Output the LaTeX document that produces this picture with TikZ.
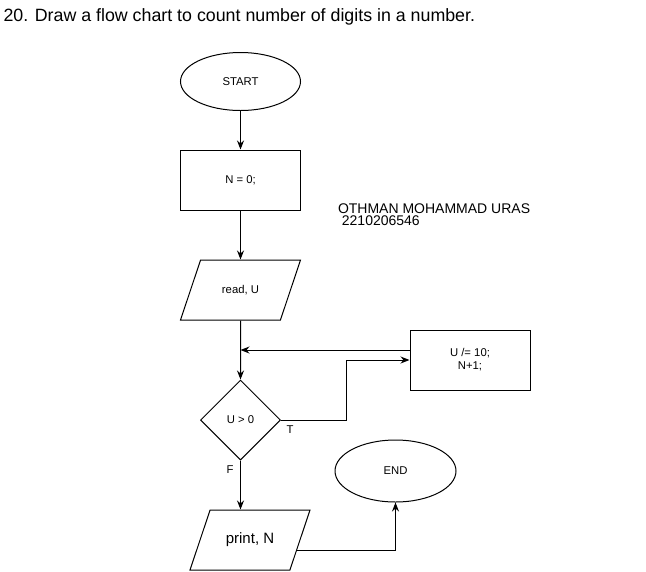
\documentclass[tikz,border=0pt]{standalone}
\usepackage{fontspec}
\setmainfont{Liberation Sans}
\usetikzlibrary{shapes.geometric,arrows.meta}

\begin{document}
\begin{tikzpicture}[x=1pt,y=-1pt,line width=1pt,>={Stealth[length=9pt,width=7pt]},
            small/.style={font=\fontsize{11.3}{13}\selectfont},
            box/.style={draw,small,minimum width=120pt,minimum height=60pt,inner sep=0pt},
            term/.style={draw,ellipse,small,minimum width=120pt,minimum height=58pt,inner sep=0pt},
            io/.style={draw,trapezium,trapezium left angle=71.5,trapezium right angle=108.5,trapezium stretches body=true,small,minimum width=120pt,text height=8pt,text depth=2pt,inner xsep=0pt,inner ysep=25pt},
            dec/.style={draw,diamond,small,minimum width=80pt,minimum height=80pt,inner sep=0pt}]
            \useasboundingbox (0,0) rectangle (646,571);
            \node[anchor=base west,inner sep=0pt,font=\fontsize{17.8}{21}\selectfont] (title) at (3,21) {20. Draw a flow chart to count number of digits in a number.};
            \node[term] (start) at (240.5,81.5) {START};
            \node[box] (init) at (240.5,180) {N = 0;};
            \node[io] (read) at (240.5,290) {read, U};
            \node[dec] (test) at (240.5,420) {U > 0};
            \node[box,align=center] (upd) at (470,360) {U /= 10;\\N+1;};
            \node[io,font=\fontsize{15}{18}\selectfont] (print) at (250,540) {print, N};
            \node[term,minimum height=62pt,minimum width=121pt] (stop) at (395.5,471) {END};
            \node[anchor=base west,inner sep=0pt,align=left,font=\fontsize{14}{12.5}\selectfont] (name) at (337.5,225.7) {OTHMAN MOHAMMAD URAS\\\hspace*{3.9pt}2210206546};
            \node[small] (tlab) at (290,430) {T};
            \node[small] (flab) at (230,470) {F};
            \draw[->] (start) -- (init);
            \draw[->] (init) -- (read);
            \draw[->] (read) -- (test);
            \draw[->] (test.east) -- ++(65,0) |- (upd.west);
            \draw[->] ([yshift=10pt]upd.west) -- ([yshift=10pt]upd.west -| test);
            \draw[->] (test) -- (test |- print.north);
            \draw[->] ([shift={(-3pt,-10pt)}]print.east) -| (stop.south);
        \end{tikzpicture}
\end{document}
